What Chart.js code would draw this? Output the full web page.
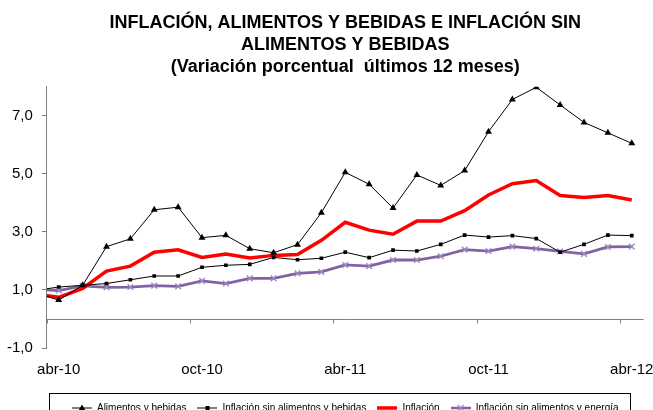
<!DOCTYPE html>
<html>
<head>
<meta charset="utf-8">
<script src="https://cdn.jsdelivr.net/npm/chart.js@4/dist/chart.umd.min.js"></script>
<style>
html,body{margin:0;padding:0;overflow:hidden;background:#fff;}
#wrap{width:653px;height:423px;}
</style>
</head>
<body>
<div id="wrap"><canvas id="c" width="653" height="423"></canvas></div>
<script>
// ---- data (mar-10 .. abr-12; the first month lies left of the plotted range) ----
const months = ['mar-10','abr-10','may-10','jun-10','jul-10','ago-10','sep-10','oct-10','nov-10','dic-10',
  'ene-11','feb-11','mar-11','abr-11','may-11','jun-11','jul-11','ago-11','sep-11','oct-11','nov-11','dic-11',
  'ene-12','feb-12','mar-12','abr-12'];
const alimentos = [0.91,0.65,1.16,2.49,2.76,3.76,3.85,2.80,2.88,2.42,2.28,2.56,3.66,5.05,4.64,3.82,4.96,4.60,5.11,6.45,7.56,7.98,7.37,6.77,6.41,6.05];
const sinAlimentos = [0.98,1.10,1.16,1.22,1.35,1.48,1.48,1.78,1.85,1.88,2.12,2.04,2.09,2.30,2.11,2.37,2.34,2.57,2.89,2.82,2.87,2.77,2.30,2.57,2.89,2.87];
const inflacion = [0.86,0.745,1.05,1.65,1.82,2.30,2.38,2.12,2.24,2.10,2.19,2.22,2.71,3.33,3.06,2.92,3.37,3.37,3.73,4.27,4.66,4.77,4.25,4.18,4.25,4.10];
const sinAlimEnergia = [1.02,0.98,1.14,1.09,1.10,1.15,1.12,1.31,1.22,1.40,1.40,1.57,1.62,1.86,1.82,2.03,2.03,2.16,2.39,2.34,2.49,2.42,2.33,2.24,2.48,2.49];
const seriesNames = ['Alimentos y bebidas','Inflación sin alimentos y bebidas','Inflación','Inflación sin alimentos y energía'];
const xTickLabels = ['abr-10','oct-10','abr-11','oct-11','abr-12'];
const yTickValues = [-1,1,3,5,7];
const titleLines = ['INFLACIÓN, ALIMENTOS Y BEBIDAS E INFLACIÓN SIN','ALIMENTOS Y BEBIDAS','(Variación porcentual  últimos 12 meses)'];

const toXY = arr => arr.map((v,i)=>({x:i,y:v}));
const xTickIdx = xTickLabels.map(l=>months.indexOf(l));

function legendIcon(color, lw, marker, mColor){
  const c = document.createElement('canvas');
  c.width = 20; c.height = 10;
  const g = c.getContext('2d');
  g.strokeStyle = color; g.lineWidth = lw;
  g.beginPath(); g.moveTo(0,5); g.lineTo(20,5); g.stroke();
  g.fillStyle = mColor; g.strokeStyle = mColor;
  if (marker==='tri'){ g.beginPath(); g.moveTo(10,1.5); g.lineTo(13.5,7.5); g.lineTo(6.5,7.5); g.closePath(); g.fill(); }
  if (marker==='sq'){ g.fillRect(8,3,4,4); }
  if (marker==='x'){ g.lineWidth=1.3; g.beginPath(); g.moveTo(7,2); g.lineTo(13,8); g.moveTo(13,2); g.lineTo(7,8); g.stroke(); }
  return c;
}
const icons = [
  legendIcon('#000',1,'tri','#000'),
  legendIcon('#000',1,'sq','#000'),
  legendIcon('#ff0000',3.5,null,'#ff0000'),
  legendIcon('#8064a2',2.5,'x','#9d87c4')
];

const zeroAxis = {
  id:'zeroAxis',
  beforeDatasetsDraw(chart){
    const {ctx, chartArea:a, scales:{x,y}} = chart;
    const y0 = Math.round(y.getPixelForValue(0))+0.5;
    ctx.save();
    ctx.strokeStyle = '#808080'; ctx.lineWidth = 1;
    ctx.beginPath(); ctx.moveTo(a.left, y0); ctx.lineTo(a.right, y0);
    xTickIdx.forEach(i=>{ const px = Math.round(x.getPixelForValue(i-0.5))+0.5; ctx.moveTo(px,y0); ctx.lineTo(px,y0+4); });
    ctx.stroke();
    ctx.restore();
  }
};
const legendBox = {
  id:'legendBox',
  afterDraw(chart){
    const hb = chart.legend.legendHitBoxes;
    if(!hb || !hb.length) return;
    const l = hb[0].left - 23, r = hb[hb.length-1].left + hb[hb.length-1].width + 11;
    const t = hb[0].top - 10.5;
    const ctx = chart.ctx;
    ctx.save(); ctx.strokeStyle='#000'; ctx.lineWidth=1;
    ctx.strokeRect(Math.round(l)+0.5, Math.round(t)+0.5, Math.round(r-l), 40);
    ctx.restore();
  }
};

new Chart(document.getElementById('c'), {
  type:'line',
  data:{
    datasets:[
      {label:seriesNames[0], data:toXY(alimentos), borderColor:'#000', backgroundColor:'#000', borderWidth:1,
       pointStyle:'triangle', pointRadius:4, pointBorderWidth:0, pointBackgroundColor:'#000', order:1},
      {label:seriesNames[1], data:toXY(sinAlimentos), borderColor:'#000', backgroundColor:'#000', borderWidth:1,
       pointStyle:'rect', pointRadius:2.6, pointBorderWidth:0, pointBackgroundColor:'#000', order:2},
      {label:seriesNames[2], data:toXY(inflacion), borderColor:'#ff0000', backgroundColor:'#ff0000', borderWidth:3.5,
       pointRadius:0, order:3},
      {label:seriesNames[3], data:toXY(sinAlimEnergia), borderColor:'#8064a2', backgroundColor:'#8064a2', borderWidth:2.8,
       pointStyle:'crossRot', pointRadius:4, pointBorderWidth:1.4, pointBorderColor:'#9d87c4', order:4}
    ]
  },
  options:{
    responsive:false, animation:false,
    layout:{padding:{left:0,right:9.3,top:0,bottom:0}},
    elements:{line:{tension:0}},
    scales:{
      x:{type:'linear', min:0.5, max:25.5,
        afterBuildTicks(s){ s.ticks = xTickIdx.map(v=>({value:v})); },
        afterFit(s){ s.height = 44; s.paddingLeft = 0; s.paddingRight = 0; },
        grid:{display:false, drawTicks:false}, border:{display:false},
        ticks:{padding:13, autoSkip:false, maxRotation:0, color:'#000',
          font:{family:'"Liberation Sans", Arial, sans-serif', size:15},
          callback:(v)=>months[v]}
      },
      y:{min:-1, max:8,
        afterBuildTicks(s){ s.ticks = yTickValues.map(v=>({value:v})); },
        afterFit(s){ s.width = 46.8; },
        grid:{drawOnChartArea:false, drawTicks:true, tickLength:5, color:'#808080'},
        border:{display:true, color:'#808080', width:1},
        ticks:{padding:9, color:'#000', font:{family:'"Liberation Sans", Arial, sans-serif', size:15},
          callback:(v)=>v.toFixed(1).replace('.',',')}
      }
    },
    plugins:{
      title:{display:true, text:titleLines, fullSize:false, color:'#000',
        font:{family:'"Liberation Sans", Arial, sans-serif', size:18, weight:'bold', lineHeight:1.222},
        padding:{top:12, bottom:8.7}},
      legend:{position:'bottom', fullSize:false,
        labels:{usePointStyle:true, pointStyleWidth:20, padding:11, color:'#000',
          font:{family:'"Liberation Sans", Arial, sans-serif', size:10},
          generateLabels(chart){
            const items = Chart.defaults.plugins.legend.labels.generateLabels(chart);
            items.forEach((it,i)=>{ it.pointStyle = icons[it.datasetIndex]; });
            return items;
          }}},
      tooltip:{enabled:false}
    }
  },
  plugins:[zeroAxis, legendBox]
});
</script>
</body>
</html>
